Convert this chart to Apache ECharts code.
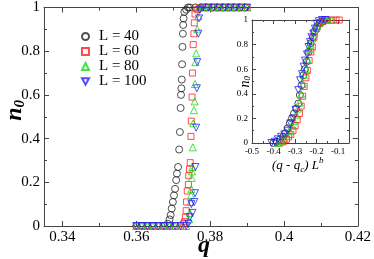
<!DOCTYPE html>
<html><head><meta charset="utf-8">
<script src="https://cdn.jsdelivr.net/npm/echarts@6/dist/echarts.min.js"></script>
<style>html,body{margin:0;padding:0;background:#fff}#c{width:374px;height:259px}</style>
</head><body><div id="c"></div>
<script>
// ---- Data (main plot) ----
const names = ['L = 40', 'L = 60', 'L = 80', 'L = 100'];
const q40 = [0.360,0.3615,0.363,0.3645,0.366,0.3675,0.3685,0.369,0.3693,0.3696,0.3699,0.3702,0.3705,0.3708,0.371,0.3713,0.3716,0.3718,0.372,0.3721,0.3722,0.3723,0.3724,0.3725,0.3726,0.3727,0.3728,0.373,0.3735,0.374,0.3745,0.376,0.3775,0.379,0.3805,0.382,0.3835,0.385,0.3865,0.388,0.3895];
const n40 = [0,0,0,0,0,0,0.01,0.03,0.05,0.08,0.11,0.14,0.17,0.21,0.24,0.27,0.35,0.43,0.54,0.60,0.63,0.67,0.74,0.82,0.88,0.92,0.95,0.98,0.99,1,1,1,1,1,1,1,1,1,1,1,1];
const q60 = [0.360,0.3615,0.363,0.3645,0.366,0.3675,0.369,0.3705,0.372,0.3728,0.3731,0.3733,0.3735,0.3736,0.3738,0.3741,0.3742,0.3744,0.3746,0.3748,0.3749,0.3751,0.3752,0.3754,0.3756,0.3757,0.3759,0.3765,0.377,0.378,0.3795,0.381,0.3825,0.384,0.3855,0.387,0.3885,0.390];
const n60 = [0,0,0,0,0,0,0,0,0,0.01,0.02,0.04,0.07,0.11,0.16,0.19,0.23,0.26,0.29,0.41,0.48,0.59,0.70,0.83,0.88,0.93,0.97,0.99,1,1,1,1,1,1,1,1,1,1];
const q80 = [0.360,0.3615,0.363,0.3645,0.366,0.3675,0.369,0.3705,0.372,0.3735,0.3743,0.3745,0.3747,0.3748,0.3749,0.375,0.3751,0.3752,0.3753,0.3754,0.3756,0.3758,0.3759,0.376,0.3762,0.3765,0.3768,0.377,0.378,0.3795,0.381,0.3825,0.384,0.3855,0.387,0.3885,0.390];
const n80 = [0,0,0,0,0,0,0,0,0,0,0.03,0.06,0.11,0.14,0.17,0.22,0.25,0.27,0.36,0.47,0.53,0.57,0.65,0.75,0.79,0.90,0.96,1,1,1,1,1,1,1,1,1,1];
const q100 = [0.360,0.3615,0.363,0.3645,0.366,0.3675,0.369,0.3705,0.372,0.3735,0.3741,0.3745,0.3749,0.3752,0.3757,0.3759,0.376,0.3762,0.3764,0.3765,0.3768,0.377,0.3772,0.378,0.3795,0.381,0.3825,0.384,0.3855,0.387,0.3885,0.390];
const n100 = [0,0,0,0,0,0,0,0,0,0,0.01,0.04,0.1,0.06,0.11,0.15,0.27,0.45,0.63,0.75,0.88,0.95,0.99,1,1,1,1,1,1,1,1,1];

// ---- Data (inset, scaled variable) ----
const x40i = [-0.40,-0.385,-0.37,-0.355,-0.345,-0.335,-0.325,-0.315,-0.305,-0.295,-0.285,-0.278,-0.27,-0.262,-0.255,-0.247,-0.238,-0.228,-0.218,-0.208,-0.197,-0.185,-0.17,-0.155];
const y40i = [0,0.01,0.03,0.05,0.08,0.12,0.16,0.2,0.24,0.28,0.32,0.39,0.47,0.55,0.6,0.66,0.74,0.81,0.86,0.91,0.95,0.98,0.99,1];
const x60i = [-0.37,-0.355,-0.34,-0.33,-0.32,-0.31,-0.3,-0.29,-0.28,-0.272,-0.265,-0.258,-0.25,-0.243,-0.235,-0.227,-0.22,-0.212,-0.2,-0.185,-0.17,-0.15,-0.13,-0.11,-0.095];
const y60i = [0,0.01,0.03,0.05,0.07,0.1,0.14,0.19,0.24,0.3,0.38,0.46,0.53,0.59,0.67,0.74,0.78,0.86,0.93,0.97,0.99,1,1,1,1];
const x80i = [-0.38,-0.365,-0.35,-0.338,-0.325,-0.315,-0.305,-0.295,-0.287,-0.28,-0.272,-0.265,-0.258,-0.25,-0.243,-0.235,-0.228,-0.22,-0.21,-0.198,-0.185,-0.17,-0.15,-0.13];
const y80i = [0,0.02,0.04,0.07,0.1,0.14,0.18,0.23,0.28,0.33,0.4,0.48,0.55,0.6,0.68,0.76,0.8,0.85,0.9,0.95,0.98,1,1,1];
const x100i = [-0.41,-0.395,-0.38,-0.365,-0.35,-0.335,-0.322,-0.31,-0.298,-0.285,-0.277,-0.268,-0.26,-0.254,-0.245,-0.238,-0.231,-0.224,-0.216,-0.208,-0.2,-0.19,-0.175,-0.16];
const y100i = [0,0.01,0.03,0.05,0.07,0.1,0.16,0.2,0.27,0.43,0.51,0.56,0.62,0.67,0.72,0.78,0.82,0.86,0.89,0.93,0.97,0.99,1,1];

// ---- Tick values ----
const mainXTicks = [0.34, 0.36, 0.38, 0.40, 0.42];
const mainXMinor = [0.35, 0.37, 0.39, 0.41];
const insetXTicks = [-0.5, -0.4, -0.3, -0.2, -0.1];
const insetXMinor = [-0.45, -0.35, -0.25, -0.15];

const FONT = '"Liberation Serif", "DejaVu Serif", serif';
const LINE = '#444';
const colors = ['#222222', '#ff2020', '#10e010', '#2020ff'];
const symbols = ['circle', 'rect', 'triangle', 'triangle'];
const rotates = [0, 0, 0, 180];
const legendIcons = ['circle', 'rect', 'triangle', 'path://M0,0L10,0L5,9Z'];

const zip = (a, b) => a.map((v, i) => [v, b[i]]);
const fmt = v => String(+(+v).toFixed(2));

function xAx(grid, pos, min, max, ticks, len, label, fontSize, line) {
  return {
    type: 'value', gridIndex: grid, position: pos, min: min, max: max,
    axisLine: { show: line, onZero: false, lineStyle: { color: LINE, width: 1 } },
    axisTick: { show: true, inside: true, length: len, customValues: ticks, lineStyle: { color: LINE } },
    axisLabel: label ? { show: true, customValues: ticks, formatter: fmt, color: '#000', fontFamily: FONT, fontSize: fontSize, margin: 4 } : { show: false },
    splitLine: { show: false }
  };
}
function yAx(grid, pos, label, fontSize, len, mlen) {
  return {
    type: 'value', gridIndex: grid, position: pos, min: 0, max: 1, interval: 0.2,
    axisLine: { show: true, onZero: false, lineStyle: { color: LINE, width: 1 } },
    axisTick: { show: true, inside: true, length: len, lineStyle: { color: LINE } },
    minorTick: { show: true, splitNumber: 2, length: mlen, lineStyle: { color: LINE } },
    axisLabel: label ? { show: true, formatter: fmt, color: '#000', fontFamily: FONT, fontSize: fontSize, margin: 4 } : { show: false },
    splitLine: { show: false }, minorSplitLine: { show: false }
  };
}

const mainData = [zip(q40, n40), zip(q60, n60), zip(q80, n80), zip(q100, n100)];
const insetData = [zip(x40i, y40i), zip(x60i, y60i), zip(x80i, y80i), zip(x100i, y100i)];

const series = [];
names.forEach((nm, i) => {
  series.push({
    name: nm, type: 'scatter', xAxisIndex: 0, yAxisIndex: 0, data: mainData[i],
    symbol: symbols[i], symbolRotate: rotates[i], symbolSize: i === 1 ? 6 : 7,
    itemStyle: { color: 'rgba(0,0,0,0)', borderColor: colors[i], borderWidth: 1 },
    z: 3, silent: true
  });
});
names.forEach((nm, i) => {
  series.push({
    name: nm, type: 'scatter', xAxisIndex: 4, yAxisIndex: 2, data: insetData[i],
    symbol: symbols[i], symbolRotate: rotates[i], symbolSize: i === 1 ? 6 : 7,
    itemStyle: { color: 'rgba(0,0,0,0)', borderColor: colors[i], borderWidth: 1 },
    z: 3, silent: true
  });
});

const chart = echarts.init(document.getElementById('c'), null, { renderer: 'canvas' });
chart.setOption({
  animation: false,
  backgroundColor: '#fff',
  grid: [
    { left: 44, top: 6, width: 316, height: 220 },
    { left: 252, top: 20, width: 97, height: 123 }
  ],
  xAxis: [
    xAx(0, 'bottom', 0.335, 0.42, mainXTicks, 5, true, 15, true),
    xAx(0, 'bottom', 0.335, 0.42, mainXMinor, 3, false, 15, false),
    xAx(0, 'top', 0.335, 0.42, mainXTicks, 5, false, 15, true),
    xAx(0, 'top', 0.335, 0.42, mainXMinor, 3, false, 15, false),
    xAx(1, 'bottom', -0.5, -0.05, insetXTicks, 4, true, 9, true),
    xAx(1, 'bottom', -0.5, -0.05, insetXMinor, 2, false, 9, false),
    xAx(1, 'top', -0.5, -0.05, insetXTicks, 4, false, 9, true),
    xAx(1, 'top', -0.5, -0.05, insetXMinor, 2, false, 9, false)
  ],
  yAxis: [
    yAx(0, 'left', true, 15, 5, 3),
    yAx(0, 'right', false, 15, 5, 3),
    yAx(1, 'left', true, 9, 4, 2),
    yAx(1, 'right', false, 9, 4, 2)
  ],
  legend: {
    data: names.map((nm, i) => ({ name: nm, icon: legendIcons[i] })),
    orient: 'vertical', left: 81, top: 29, padding: 0,
    itemWidth: 7, itemHeight: 7, itemGap: 0,
    textStyle: { fontFamily: FONT, fontSize: 15, lineHeight: 14, color: '#000', padding: [0, 0, 0, 5] },
    selectedMode: false
  },
  graphic: [
    { type: 'text', left: 3, top: 100, rotation: Math.PI / 2,
      style: { text: '{a|n}{b|0}', rich: {
        a: { fontFamily: FONT, fontSize: 24, fontStyle: 'italic', fontWeight: 'bold', fill: '#000' },
        b: { fontFamily: FONT, fontSize: 15, fontStyle: 'italic', fontWeight: 'bold', fill: '#000', verticalAlign: 'bottom', padding: [10, 0, 0, 0] } } } },
    { type: 'text', left: 198, top: 234,
      style: { text: 'q', fontFamily: FONT, fontSize: 24, fontStyle: 'italic', fontWeight: 'bold', fill: '#000' } },
    { type: 'text', left: 238, top: 76, rotation: Math.PI / 2,
      style: { text: '{a|n}{b|0}', rich: {
        a: { fontFamily: FONT, fontSize: 14, fontStyle: 'italic', fill: '#000' },
        b: { fontFamily: FONT, fontSize: 9, fontStyle: 'italic', fill: '#000', verticalAlign: 'bottom', padding: [6, 0, 0, 0] } } } },
    { type: 'text', left: 272, top: 156,
      style: { text: '{a|(q - q}{b|c}{a|) L}{c|b}', rich: {
        a: { fontFamily: FONT, fontSize: 13, fontStyle: 'italic', fill: '#000' },
        b: { fontFamily: FONT, fontSize: 9, fontStyle: 'italic', fill: '#000', padding: [8, 0, 0, 0] },
        c: { fontFamily: FONT, fontSize: 9, fontStyle: 'italic', fill: '#000', padding: [0, 0, 10, 0] } } } }
  ],
  series: series
});
</script></body></html>
